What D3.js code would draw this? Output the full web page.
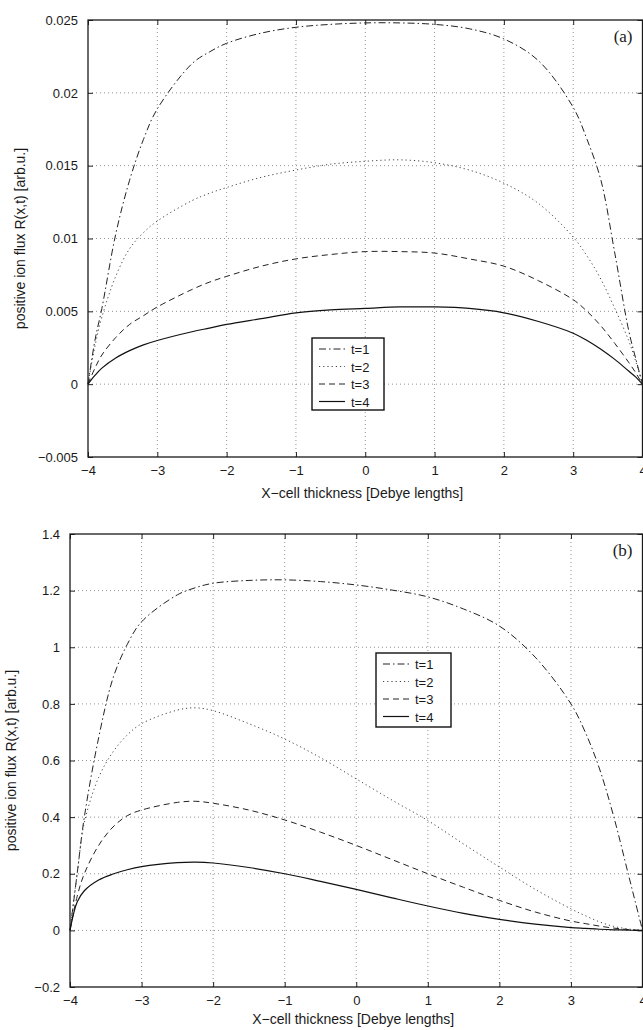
<!DOCTYPE html>
<html>
<head>
<meta charset="utf-8">
<script src="https://cdn.jsdelivr.net/npm/d3@7"></script>
<style>
  html, body { margin: 0; padding: 0; background: #fff; }
  svg { display: block; }
  text { font-family: "Liberation Sans", Arial, Helvetica, sans-serif; fill: #1a1a1a; }
</style>
</head>
<body>
<svg id="chart" width="643" height="1030"></svg>
<script>
// Sample positions along the cell (Debye lengths)
const xs = [-4, -3.9, -3.8, -3.6, -3.4, -3.2, -3.0, -2.5, -2.25, -2.0, -1.5, -1.0, -0.5, 0, 0.5, 1.0, 1.5, 2.0, 2.5, 3.0, 3.2, 3.4, 3.6, 3.8, 3.9, 4];

// Panel (a): positive ion flux for t = 1..4
const fluxA_t1 = [0, 0.0030, 0.0052, 0.0103, 0.0140, 0.0168, 0.0189, 0.0220, 0.0228, 0.0234, 0.0241, 0.0245, 0.0247, 0.0248, 0.0248, 0.0247, 0.0244, 0.0237, 0.0222, 0.0190, 0.0168, 0.0140, 0.0090, 0.0037, 0.0018, 0];
const fluxA_t2 = [0, 0.0026, 0.0046, 0.0074, 0.0093, 0.0104, 0.0112, 0.0126, 0.0131, 0.0135, 0.0142, 0.0147, 0.0151, 0.0153, 0.0154, 0.0152, 0.0147, 0.0138, 0.0124, 0.0101, 0.0088, 0.0072, 0.0052, 0.0030, 0.0016, 0];
const fluxA_t3 = [0, 0.0011, 0.0020, 0.0032, 0.0041, 0.0047, 0.0053, 0.0065, 0.0070, 0.0074, 0.0081, 0.0086, 0.0089, 0.0091, 0.0091, 0.0090, 0.0086, 0.0081, 0.0071, 0.0058, 0.0050, 0.0040, 0.0028, 0.0015, 0.0008, 0];
const fluxA_t4 = [0, 0.0006, 0.0011, 0.0018, 0.0023, 0.0027, 0.0030, 0.0036, 0.00385, 0.0041, 0.0045, 0.0049, 0.0051, 0.0052, 0.0053, 0.0053, 0.0052, 0.0049, 0.0043, 0.0035, 0.0030, 0.0024, 0.0017, 0.0009, 0.0005, 0];

// Panel (b): positive ion flux for t = 1..4
const fluxB_t1 = [0, 0.20, 0.40, 0.68, 0.89, 1.01, 1.09, 1.185, 1.21, 1.226, 1.236, 1.238, 1.232, 1.220, 1.202, 1.178, 1.135, 1.075, 0.965, 0.80, 0.70, 0.57, 0.40, 0.20, 0.10, 0];
const fluxB_t2 = [0, 0.20, 0.38, 0.54, 0.63, 0.69, 0.73, 0.778, 0.786, 0.776, 0.73, 0.676, 0.61, 0.535, 0.46, 0.388, 0.305, 0.224, 0.145, 0.076, 0.052, 0.030, 0.014, 0.005, 0.002, 0];
const fluxB_t3 = [0, 0.12, 0.20, 0.30, 0.365, 0.405, 0.425, 0.452, 0.456, 0.449, 0.425, 0.39, 0.347, 0.30, 0.25, 0.20, 0.152, 0.106, 0.065, 0.033, 0.024, 0.015, 0.008, 0.003, 0.001, 0];
const fluxB_t4 = [0, 0.10, 0.14, 0.178, 0.199, 0.214, 0.225, 0.239, 0.241, 0.238, 0.222, 0.20, 0.173, 0.145, 0.115, 0.086, 0.060, 0.039, 0.022, 0.010, 0.007, 0.004, 0.002, 0.001, 0.0, 0];

const seriesNames = ["t=1", "t=2", "t=3", "t=4"];
const xTicks = [-4, -3, -2, -1, 0, 1, 2, 3, 4];
const yTicksA = [-0.005, 0, 0.005, 0.01, 0.015, 0.02, 0.025];
const yTickLabelsA = ["\u22120.005", "0", "0.005", "0.01", "0.015", "0.02", "0.025"];
const yTicksB = [-0.2, 0, 0.2, 0.4, 0.6, 0.8, 1, 1.2, 1.4];
const yTickLabelsB = ["\u22120.2", "0", "0.2", "0.4", "0.6", "0.8", "1", "1.2", "1.4"];
const xTickLabels = ["\u22124", "\u22123", "\u22122", "\u22121", "0", "1", "2", "3", "4"];

const xLabel = "X\u2212cell thickness [Debye lengths]";
const yLabel = "positive ion flux R(x,t) [arb.u.]";

// line styles per series
const styles = [
  { dash: "7,3,1.5,3", color: "#222", width: 1 },
  { dash: "1.2,3", color: "#444", width: 1 },
  { dash: "6,4", color: "#222", width: 1 },
  { dash: null, color: "#111", width: 1.2 }
];

const svg = d3.select("#chart");

function drawPanel(cfg) {
  const { left, right, top, bottom, yDomain, yTicks, yTickLabels, series, tag, legend, yLabelX, xLabelDy } = cfg;
  const g = svg.append("g");
  const x = d3.scaleLinear().domain([-4, 4]).range([left, right]);
  const y = d3.scaleLinear().domain(yDomain).range([bottom, top]);

  // dotted grid
  const grid = g.append("g");
  grid.selectAll("line.vx").data(xTicks.slice(1, -1)).enter().append("line")
    .attr("x1", d => x(d)).attr("x2", d => x(d))
    .attr("y1", top).attr("y2", bottom)
    .attr("stroke", "#777").attr("stroke-width", 0.8).attr("stroke-dasharray", "1,3");
  grid.selectAll("line.hy").data(yTicks.slice(1, -1)).enter().append("line")
    .attr("x1", left).attr("x2", right)
    .attr("y1", d => y(d)).attr("y2", d => y(d))
    .attr("stroke", "#777").attr("stroke-width", 0.8).attr("stroke-dasharray", "1,3");

  // axes with inward ticks on all four sides
  const axB = d3.axisBottom(x).tickValues(xTicks).tickSize(-5).tickPadding(9)
    .tickFormat((d, i) => xTickLabels[i]);
  const axT = d3.axisTop(x).tickValues(xTicks).tickSize(-5).tickFormat("");
  const axL = d3.axisLeft(y).tickValues(yTicks).tickSize(-5).tickPadding(10)
    .tickFormat((d, i) => yTickLabels[i]);
  const axR = d3.axisRight(y).tickValues(yTicks).tickSize(-5).tickFormat("");

  const styleAxis = sel => {
    sel.select(".domain").remove();
    sel.selectAll(".tick line").attr("stroke", "#222").attr("stroke-width", 1);
    sel.selectAll("text").attr("font-size", 13).attr("fill", "#1a1a1a")
      .style("font-family", "'Liberation Sans', Arial, sans-serif");
  };
  g.append("g").attr("transform", `translate(0,${bottom})`).call(axB).call(styleAxis);
  g.append("g").attr("transform", `translate(0,${top})`).call(axT).call(styleAxis);
  g.append("g").attr("transform", `translate(${left},0)`).call(axL).call(styleAxis);
  g.append("g").attr("transform", `translate(${right},0)`).call(axR).call(styleAxis);

  // frame
  g.append("rect").attr("x", left).attr("y", top)
    .attr("width", right - left).attr("height", bottom - top)
    .attr("fill", "none").attr("stroke", "#1a1a1a").attr("stroke-width", 1.3);

  // curves
  const line = d3.line().x(d => x(d[0])).y(d => y(d[1])).curve(d3.curveCatmullRom.alpha(0.5));
  series.forEach((vals, i) => {
    const pts = xs.map((xv, j) => [xv, vals[j]]);
    g.append("path").datum(pts).attr("d", line)
      .attr("fill", "none").attr("stroke", styles[i].color)
      .attr("stroke-width", styles[i].width)
      .attr("stroke-dasharray", styles[i].dash);
  });

  // axis titles
  g.append("text").attr("x", (left + right) / 2 - 3).attr("y", bottom + xLabelDy)
    .attr("text-anchor", "middle").attr("font-size", 14).text(xLabel);
  g.append("text").attr("transform", `translate(${yLabelX},${(top + bottom) / 2}) rotate(-90)`)
    .attr("text-anchor", "middle").attr("font-size", 14).text(yLabel);

  // panel tag
  g.append("text").attr("x", right - 10).attr("y", top + 22)
    .attr("text-anchor", "end").attr("font-size", 17)
    .style("font-family", "'Liberation Serif', 'Times New Roman', serif").text(tag);

  // legend
  const lg = g.append("g").attr("transform", `translate(${legend.x},${legend.y})`);
  lg.append("rect").attr("width", legend.w).attr("height", legend.h)
    .attr("fill", "#fff").attr("stroke", "#111").attr("stroke-width", 1.4);
  seriesNames.forEach((name, i) => {
    const cy = 11 + i * 17.5;
    lg.append("line").attr("x1", 7).attr("x2", 33).attr("y1", cy).attr("y2", cy)
      .attr("stroke", styles[i].color).attr("stroke-width", styles[i].width)
      .attr("stroke-dasharray", styles[i].dash);
    lg.append("text").attr("x", 39).attr("y", cy + 5).attr("font-size", 13).text(name);
  });
}

drawPanel({
  left: 88, right: 642.5, top: 20, bottom: 457,
  yDomain: [-0.005, 0.025], yTicks: yTicksA, yTickLabels: yTickLabelsA,
  series: [fluxA_t1, fluxA_t2, fluxA_t3, fluxA_t4], tag: "(a)",
  legend: { x: 312, y: 338, w: 72, h: 72 }, yLabelX: 25, xLabelDy: 41
});

drawPanel({
  left: 70, right: 642.5, top: 534, bottom: 987,
  yDomain: [-0.2, 1.4], yTicks: yTicksB, yTickLabels: yTickLabelsB,
  series: [fluxB_t1, fluxB_t2, fluxB_t3, fluxB_t4], tag: "(b)",
  legend: { x: 376, y: 653, w: 75, h: 74 }, yLabelX: 16, xLabelDy: 37
});
</script>
</body>
</html>
